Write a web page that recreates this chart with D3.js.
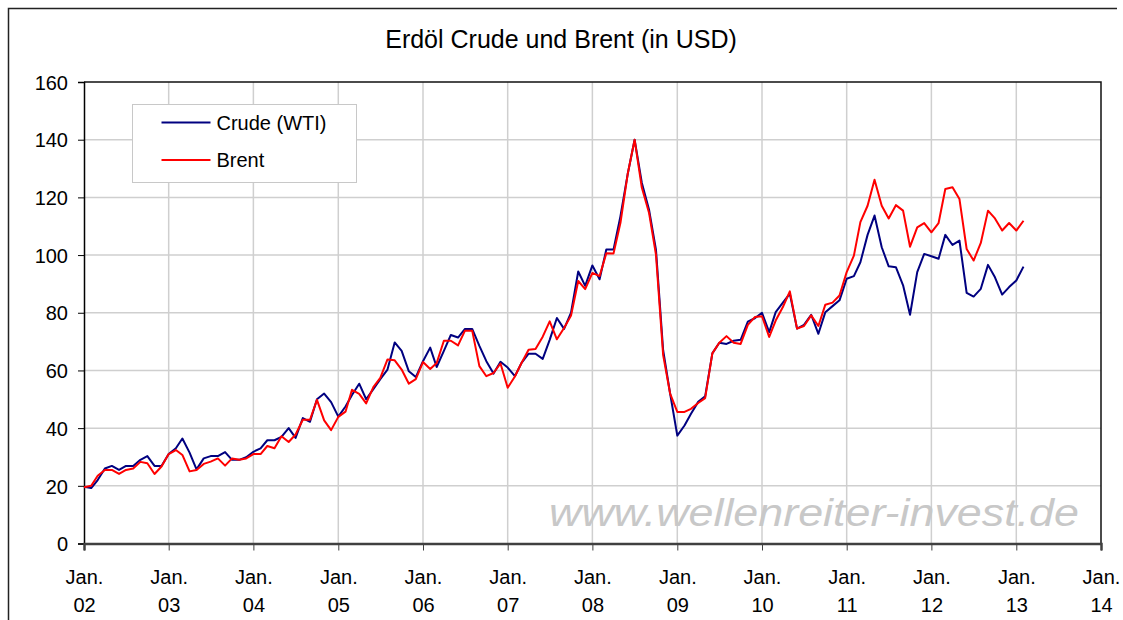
<!DOCTYPE html>
<html lang="de">
<head>
    <meta charset="UTF-8">
    <title>Erdöl Crude und Brent</title>
    <script src="https://d3js.org/d3.v7.min.js"></script>
    <style>
        body { margin: 0; background: #fff; }
        svg { font-family: "Liberation Sans", Arial, sans-serif; }
    </style>
</head>
<body>
<div id="chart"></div>

<script>
// monthly values, Jan 2002 .. Feb 2013
const firstMonth = "2002-01";
const crude = [
    19.7, 19.2, 22.0, 26.0, 26.9, 25.5, 26.9, 26.9, 29.0, 30.3, 26.9, 26.9,
    31.0, 33.0, 36.4, 31.5, 25.7, 29.5, 30.3, 30.3, 31.7, 29.0, 29.0, 29.9,
    31.8, 33.0, 35.8, 35.8, 37.0, 40.0, 36.6, 43.5, 42.2, 50.0, 52.0, 49.0,
    44.0, 47.5, 51.5, 55.4, 50.0, 53.5, 57.0, 60.3, 69.7, 66.8, 59.7, 57.7,
    63.2, 67.9, 61.2, 66.8, 72.3, 71.4, 74.4, 74.4, 68.5, 63.2, 58.9, 63.0,
    61.0, 58.0, 62.5, 65.8, 65.8, 64.0, 70.6, 78.2, 74.4, 80.0, 94.3, 89.3,
    96.4, 91.6, 101.9, 101.9, 113.5, 128.0, 140.0, 125.1, 115.8, 101.9, 67.0, 52.0,
    37.4, 40.9, 45.0, 49.1, 51.0, 65.9, 69.6, 69.2, 70.3, 70.6, 76.9, 78.1,
    80.0, 73.3, 80.2, 83.5, 86.6, 74.5, 75.8, 79.3, 72.7, 80.2, 82.3, 84.3,
    91.8, 92.7, 97.5, 107.0, 113.7, 102.7, 96.1, 95.8, 89.5, 79.3, 94.1, 100.4,
    99.6, 98.7, 107.0, 103.5, 105.0, 86.9, 85.6, 88.3, 96.6, 92.3, 86.3, 88.9,
    91.2, 96.0
];
const brent = [
    19.5, 20.0, 23.5, 25.5, 25.5, 24.1, 25.5, 26.0, 28.3, 27.8, 24.1, 26.7,
    31.0, 32.4, 30.7, 25.0, 25.5, 27.6, 28.4, 29.5, 27.0, 29.5, 29.0, 29.5,
    31.0, 31.0, 33.8, 33.0, 37.2, 35.2, 37.8, 42.9, 42.9, 49.8, 42.7, 39.3,
    43.9, 45.7, 53.3, 51.9, 48.6, 54.2, 57.4, 63.8, 63.5, 60.3, 55.4, 57.0,
    62.9, 60.5, 62.6, 70.3, 70.3, 68.7, 73.8, 73.8, 61.5, 58.0, 59.1, 62.4,
    54.0, 57.9, 62.5, 67.2, 67.4, 71.7, 77.0, 70.8, 74.7, 79.0, 91.0, 88.2,
    93.8, 92.7, 100.6, 100.5, 111.2, 128.0, 140.0, 123.4, 114.7, 100.2, 65.3, 52.0,
    45.6, 45.6, 46.7, 48.7, 50.4, 65.9, 69.6, 71.9, 69.6, 69.2, 75.8, 78.5,
    78.8, 71.6, 77.3, 82.0, 87.4, 74.5, 75.4, 79.1, 75.4, 82.8, 83.5, 86.0,
    94.1, 99.8, 111.4, 117.1, 126.1, 117.1, 112.7, 117.3, 115.4, 102.9, 109.6, 111.1,
    107.9, 111.1, 122.9, 123.5, 119.4, 102.1, 98.1, 104.2, 115.4, 112.7, 108.5, 111.1,
    108.5, 111.9
];
const yTicks = [0, 20, 40, 60, 80, 100, 120, 140, 160];
const xTickYears = ["02", "03", "04", "05", "06", "07", "08", "09", "10", "11", "12", "13", "14"];
const seriesNames = ["Crude (WTI)", "Brent"];
const seriesColors = ["#000080", "#ff0000"];

const width = 1123, height = 620;
const plot = {left: 84, right: 1101, top: 82, bottom: 543.5};

const svg = d3.select("#chart").append("svg")
    .attr("width", width)
    .attr("height", height);

// outer chart frame
svg.append("path")
    .attr("d", `M8.5,${height} V8.5 H1117`)
    .attr("fill", "none")
    .attr("stroke", "#222")
    .attr("stroke-width", 1.5);

const start = d3.utcParse("%Y-%m")(firstMonth);
const months = crude.map((d, i) => d3.utcMonth.offset(start, i));
const yearTicks = xTickYears.map(y => d3.utcParse("%y")(y));

const x = d3.scaleUtc()
    .domain([yearTicks[0], yearTicks[yearTicks.length - 1]])
    .range([plot.left, plot.right]);

const y = d3.scaleLinear()
    .domain([0, 160])
    .range([plot.bottom, plot.top]);

// gridlines
svg.append("g")
    .selectAll("line.h")
    .data(yTicks.slice(1, -1))
    .join("line")
    .attr("x1", plot.left).attr("x2", plot.right)
    .attr("y1", d => y(d)).attr("y2", d => y(d))
    .attr("stroke", "#cfcfcf")
    .attr("stroke-width", 1.5);

svg.append("g")
    .selectAll("line.v")
    .data(yearTicks.slice(1, -1))
    .join("line")
    .attr("x1", d => x(d)).attr("x2", d => x(d))
    .attr("y1", plot.top).attr("y2", plot.bottom)
    .attr("stroke", "#cfcfcf")
    .attr("stroke-width", 1.5);

// watermark
svg.append("text")
    .attr("x", 549)
    .attr("y", 526)
    .attr("textLength", 530)
    .attr("lengthAdjust", "spacingAndGlyphs")
    .style("font-size", "38px")
    .style("font-style", "italic")
    .style("fill", "#c8c8c8")
    .text("www.wellenreiter-invest.de");

// plot frame (top and right)
svg.append("path")
    .attr("d", `M${plot.left},${plot.top} H${plot.right} V${plot.bottom}`)
    .attr("fill", "none")
    .attr("stroke", "#111")
    .attr("stroke-width", 1.5);

// axes
const yAxis = svg.append("g")
    .attr("transform", `translate(${plot.left},0)`)
    .call(d3.axisLeft(y).tickValues(yTicks).tickSize(6).tickPadding(10));
yAxis.select(".domain").attr("stroke", "#000").attr("stroke-width", 1.5);
yAxis.selectAll(".tick line").attr("stroke", "#000");
yAxis.selectAll("text")
    .style("font-size", "20px")
    .attr("fill", "#000")
    .attr("dy", "0.36em");

const xAxis = svg.append("g")
    .attr("transform", `translate(0,${plot.bottom})`)
    .call(d3.axisBottom(x).tickValues(yearTicks).tickSize(7).tickFormat(""));
xAxis.select(".domain").attr("stroke", "#404040").attr("stroke-width", 2.5);
xAxis.selectAll(".tick line").attr("stroke", "#404040");

xAxis.selectAll(".tick").each(function(d, i) {
    const t = d3.select(this).append("text")
        .attr("fill", "#000")
        .attr("text-anchor", "middle")
        .style("font-size", "20px");
    t.append("tspan").attr("x", 0).attr("y", 40).text("Jan.");
    t.append("tspan").attr("x", 0).attr("y", 68).text(xTickYears[i]);
});

// lines
const line = d3.line()
    .x((d, i) => x(months[i]))
    .y(d => y(d));

[crude, brent].forEach((values, k) => {
    svg.append("path")
        .datum(values)
        .attr("fill", "none")
        .attr("stroke", seriesColors[k])
        .attr("stroke-width", 2)
        .attr("stroke-linejoin", "round")
        .attr("d", line);
});

// title
svg.append("text")
    .attr("x", 561)
    .attr("y", 48)
    .attr("text-anchor", "middle")
    .style("font-size", "25px")
    .attr("fill", "#000")
    .text("Erdöl Crude und Brent (in USD)");

// legend
const legend = svg.append("g").attr("transform", "translate(132.5,104.5)");
legend.append("rect")
    .attr("width", 224)
    .attr("height", 78)
    .attr("fill", "#fff")
    .attr("stroke", "#c8c8c8");

seriesNames.forEach((name, i) => {
    const ly = 18 + i * 37.5;
    legend.append("line")
        .attr("x1", 29).attr("x2", 78)
        .attr("y1", ly).attr("y2", ly)
        .attr("stroke", seriesColors[i])
        .attr("stroke-width", 2);
    legend.append("text")
        .attr("x", 84)
        .attr("y", ly + 7)
        .style("font-size", "20px")
        .attr("fill", "#000")
        .text(name);
});
</script>

</body>
</html>
